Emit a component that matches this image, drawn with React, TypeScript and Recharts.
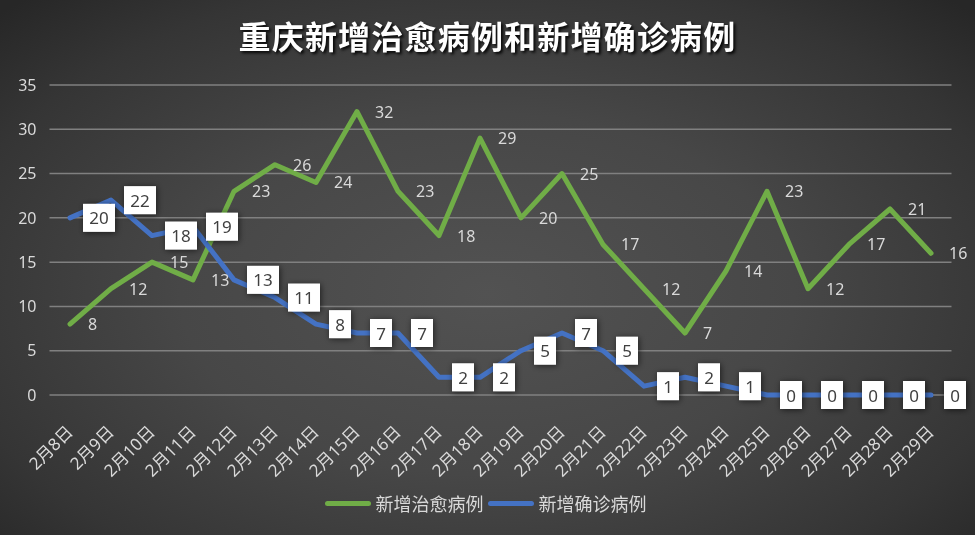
import React from 'react';
import { LineChart, Line, XAxis, YAxis, CartesianGrid, LabelList } from 'recharts';

const dates = [
  '2月8日', '2月9日', '2月10日', '2月11日', '2月12日', '2月13日', '2月14日', '2月15日',
  '2月16日', '2月17日', '2月18日', '2月19日', '2月20日', '2月21日', '2月22日', '2月23日',
  '2月24日', '2月25日', '2月26日', '2月27日', '2月28日', '2月29日',
];
const cured = [8, 12, 15, 13, 23, 26, 24, 32, 23, 18, 29, 20, 25, 17, 12, 7, 14, 23, 12, 17, 21, 16];
const confirmed = [20, 22, 18, 19, 13, 11, 8, 7, 7, 2, 2, 5, 7, 5, 1, 2, 1, 0, 0, 0, 0, 0];
const yTicks = [0, 5, 10, 15, 20, 25, 30, 35];

const GREEN = '#70ad47';
const BLUE = '#4472c4';
const TEXT = '#d9d9d9';
const FONT = '"Noto Sans", "Noto Sans CJK SC", sans-serif';

const data = dates.map((d, i) => ({ date: d, cured: cured[i], confirmed: confirmed[i] }));

const DateTick = (props: any) => {
  const { x, y, payload } = props;
  return (
    <g transform={`translate(${x + 4},${y + 30})`}>
      <text transform="rotate(-45)" textAnchor="end" fill={TEXT} fontSize={17} fontFamily={FONT}>
        {payload.value}
      </text>
    </g>
  );
};

const CuredLabel = (props: any) => {
  const { x, y, value } = props;
  return (
    <text x={x + 18} y={y} dominantBaseline="central" fill={TEXT} fontSize={16} fontFamily={FONT}>
      {value}
    </text>
  );
};

const BoxLabel = (props: any) => {
  const { x, y, value } = props;
  const w = String(value).length * 10 + 12;
  return (
    <g>
      <rect x={x + 13} y={y - 14} width={w} height={28} fill="#ffffff" filter="url(#boxShadow)" />
      <text x={x + 13 + w / 2} y={y} textAnchor="middle" dominantBaseline="central"
        fill="#404040" fontSize={17} fontFamily={FONT}>
        {value}
      </text>
    </g>
  );
};

const LegendItem: React.FC<{ color: string; label: string }> = ({ color, label }) => (
  <div style={{ display: 'flex', alignItems: 'center', marginRight: 4 }}>
    <div style={{ width: 46, height: 5, borderRadius: 3, background: color, marginRight: 5 }} />
    <span style={{ color: TEXT, fontSize: 18, fontFamily: FONT }}>{label}</span>
  </div>
);

export default function App() {
  return (
    <div style={{
      position: 'fixed', left: 0, top: 0, width: 975, height: 535, overflow: 'hidden',
      background: 'radial-gradient(ellipse 70% 75% at 50% 55%, #525252 0%, #474747 45%, #353535 80%, #272727 100%)',
    }}>
      <div style={{
        position: 'absolute', top: 12, left: 0, width: 975, textAlign: 'center',
        color: '#ffffff', fontSize: 32, fontWeight: 700, letterSpacing: 1.2,
        fontFamily: '"Noto Sans CJK SC", sans-serif', textShadow: '2px 2px 3px rgba(0,0,0,0.9)',
      }}>
        重庆新增治愈病例和新增确诊病例
      </div>
      <LineChart width={975} height={535} data={data}
        margin={{ top: 85, right: 23.5, left: 0, bottom: 0 }}>
        <defs>
          <filter id="boxShadow" x="-50%" y="-50%" width="200%" height="200%">
            <feDropShadow dx="1" dy="1" stdDeviation="3" floodColor="#000" floodOpacity="0.6" />
          </filter>
        </defs>
        <CartesianGrid vertical={false} stroke="#808080" strokeWidth={1.5} />
        <XAxis dataKey="date" interval={0} height={140} tick={<DateTick />}
          axisLine={false} tickLine={false} padding={{ left: 20.5, right: 20.5 }} />
        <YAxis domain={[0, 35]} ticks={yTicks} width={49.5} axisLine={false} tickLine={false}
          tickSize={0} tickMargin={13}
          tick={{ fill: TEXT, fontSize: 16, fontFamily: FONT }} />
        <Line dataKey="cured" stroke={GREEN} strokeWidth={5} dot={false}
          strokeLinejoin="round" strokeLinecap="round" isAnimationActive={false}>
          <LabelList dataKey="cured" content={<CuredLabel />} />
        </Line>
        <Line dataKey="confirmed" stroke={BLUE} strokeWidth={5} dot={false}
          strokeLinejoin="round" strokeLinecap="round" isAnimationActive={false}>
          <LabelList dataKey="confirmed" content={<BoxLabel />} />
        </Line>
      </LineChart>
      <div style={{
        position: 'absolute', top: 490, left: 0, width: 975, display: 'flex', justifyContent: 'center',
      }}>
        <LegendItem color={GREEN} label="新增治愈病例" />
        <LegendItem color={BLUE} label="新增确诊病例" />
      </div>
    </div>
  );
}
